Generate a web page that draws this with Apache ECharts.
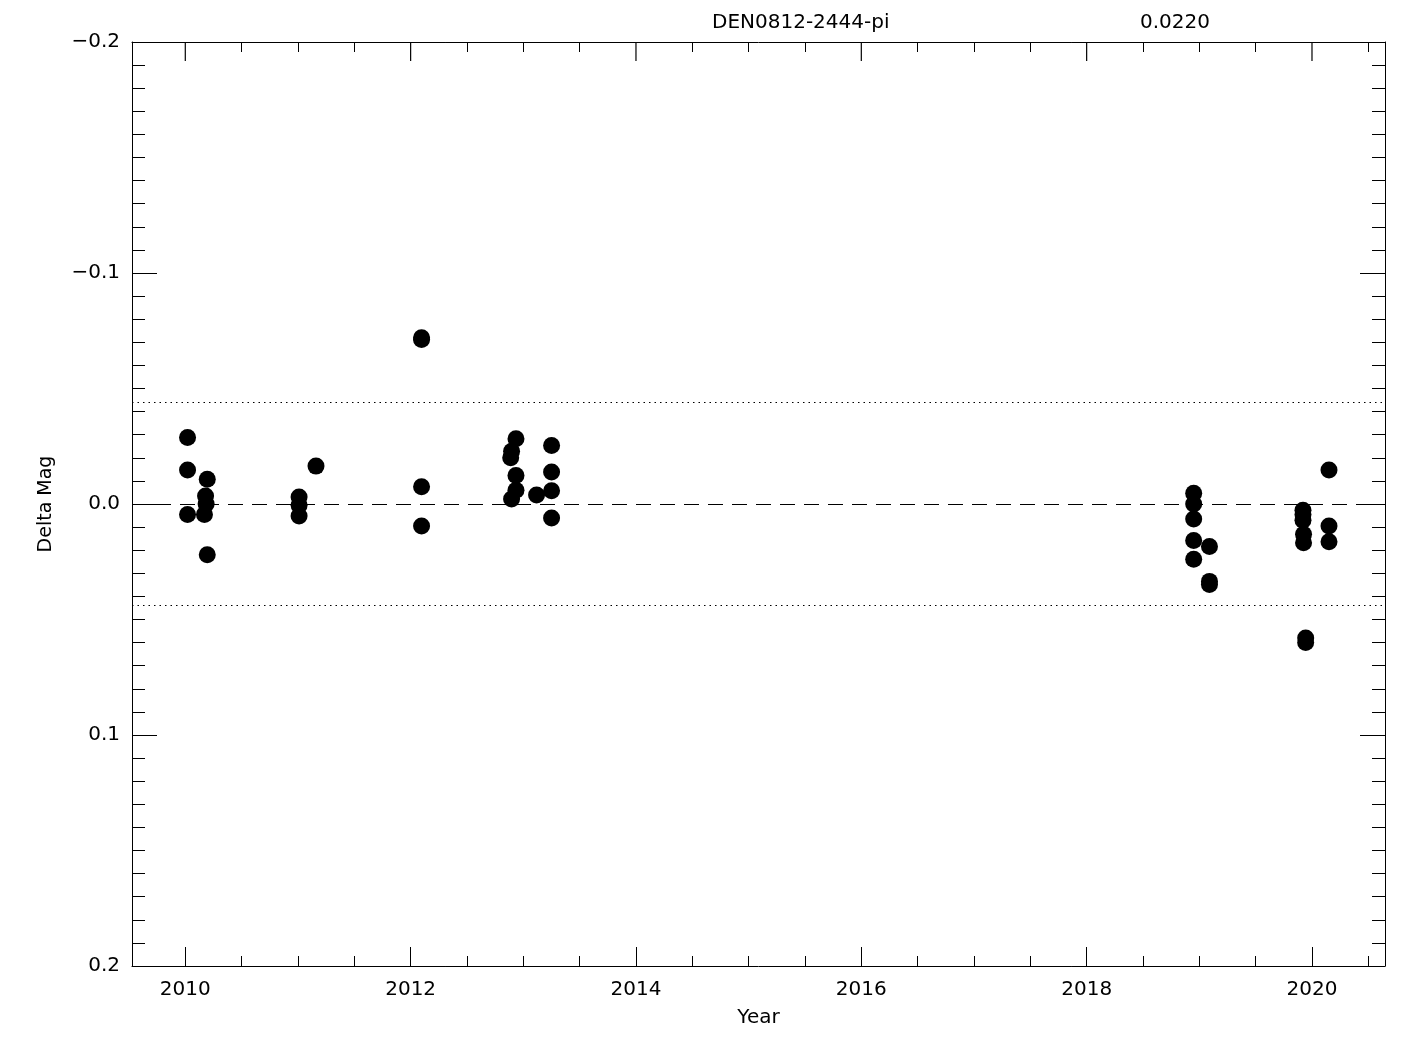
<!DOCTYPE html>
<html>
<head>
<meta charset="utf-8">
<script src="https://cdn.jsdelivr.net/npm/echarts@6/dist/echarts.min.js"></script>
<style>
html,body{margin:0;padding:0;background:#fff;}
#chart{width:1425px;height:1050px;}
</style>
</head>
<body>
<div id="chart"></div>
<script>
// ---- data ----
const years = [
  2010.02, 2010.02, 2010.02, 2010.195, 2010.18, 2010.185, 2010.17, 2010.195,
  2011.01, 2011.01, 2011.01, 2011.16,
  2012.097, 2012.097, 2012.097, 2012.097,
  2012.935, 2012.896, 2012.888, 2012.935, 2012.935, 2012.896, 2013.118,
  2013.251, 2013.251, 2013.251, 2013.251,
  2018.95, 2018.95, 2018.95, 2018.95, 2018.95, 2019.09, 2019.09, 2019.09,
  2020.151, 2020.151, 2020.151,
  2019.92, 2019.92, 2019.92, 2019.925, 2019.925, 2019.944, 2019.944
];
const mags = [
  -0.0288, -0.0147, 0.0045, -0.0107, -0.0035, 0.0000, 0.0045, 0.0220,
  -0.0030, 0.0005, 0.0052, -0.0164,
  -0.0720, -0.0712, -0.0075, 0.0095,
  -0.0282, -0.0228, -0.0200, -0.0123, -0.0060, -0.0022, -0.0039,
  -0.0253, -0.0139, -0.0057, 0.0061,
  -0.0047, 0.0000, 0.0065, 0.0158, 0.0239, 0.0184, 0.0335, 0.0348,
  -0.0147, 0.0095, 0.0163,
  0.0027, 0.0045, 0.0070, 0.0131, 0.0168, 0.0580, 0.0600
];
const refLines = [0.0, -0.044, 0.044];
const xMajorTicks = [2010, 2012, 2014, 2016, 2018, 2020];
const xMinorTicks = [2010.5, 2011, 2011.5, 2012.5, 2013, 2013.5, 2014.5, 2015, 2015.5,
  2016.5, 2017, 2017.5, 2018.5, 2019, 2019.5, 2020.5];
const yTickLabels = ['\u22120.2', '\u22120.1', '0.0', '0.1', '0.2'];
const titleText = 'DEN0812-2444-pi';
const valueText = '0.0220';
const X_MIN = 2009.527, X_MAX = 2020.648;
const Y_MIN = -0.2, Y_MAX = 0.2;

const FONT = 'DejaVu Sans';
const points = years.map((y, i) => [y, mags[i]]);

const black = '#000';
const lineStyle = { color: black, width: 1 };
function xAx(grid, pos, ticks, len, withLine, labels, showTicks) {
  return {
    type: 'value', gridIndex: grid, position: pos, min: X_MIN, max: X_MAX,
    splitLine: { show: false },
    axisLine: { show: withLine, onZero: false, lineStyle },
    axisTick: { show: showTicks !== false, inside: true, length: len, customValues: ticks, lineStyle },
    axisLabel: labels ? {
      show: true, customValues: ticks, margin: 14, color: black, fontSize: 20, fontFamily: FONT,
      formatter: v => String(Math.round(v))
    } : { show: false }
  };
}
function yAx(grid, pos, labels, visible) {
  return {
    type: 'value', gridIndex: grid, position: pos, inverse: true,
    min: Y_MIN, max: Y_MAX, interval: 0.1, show: visible,
    splitLine: { show: false },
    axisLine: { show: true, onZero: false, lineStyle },
    axisTick: { show: true, inside: true, length: 25, lineStyle },
    minorTick: { show: true, splitNumber: 10, length: 13, lineStyle },
    axisLabel: labels ? {
      show: true, margin: 12, color: black, fontSize: 20, fontFamily: FONT,
      formatter: v => yTickLabels[Math.round((v + 0.2) / 0.1)]
    } : { show: false }
  };
}

const xa0 = xAx(0, 'bottom', xMajorTicks, 19, true, true);
xa0.name = 'Year';
xa0.nameLocation = 'middle';
xa0.nameGap = 42;
xa0.nameTextStyle = { color: black, fontSize: 20, fontFamily: FONT };
const ya0 = yAx(0, 'left', true, true);
ya0.name = 'Delta Mag';
ya0.nameLocation = 'middle';
ya0.nameGap = 76;
ya0.nameTextStyle = { color: black, fontSize: 19, fontFamily: FONT };

const grid = { left: 132, right: 40, top: 42, bottom: 84 };
const option = {
  animation: false,
  backgroundColor: '#fff',
  grid: [Object.assign({}, grid), Object.assign({}, grid)],
  xAxis: [
    xa0,
    xAx(0, 'top', xMajorTicks, 19, true, false, false),
    xAx(1, 'bottom', xMinorTicks, 10, false, false),
    xAx(1, 'top', xMinorTicks, 10, false, false)
  ],
  yAxis: [ya0, yAx(0, 'right', false, true), yAx(1, 'left', false, false)],
  graphic: [
    { type: 'text', left: 712, top: 13, style: { text: titleText, fill: black, fontSize: 20, fontFamily: FONT } },
    { type: 'text', left: 1140, top: 13, style: { text: valueText, fill: black, fontSize: 20, fontFamily: FONT } }
  ],
  series: [
    {
      type: 'line', xAxisIndex: 0, yAxisIndex: 0, data: [], z: 1,
      markLine: {
        silent: true, symbol: ['none', 'none'], z: 1, animation: false, precision: 4,
        label: { show: false },
        data: refLines.map((v, i) => ({
          yAxis: v,
          lineStyle: { color: black, width: 1, type: i === 0 ? [15, 9] : [1.5, 4] }
        }))
      }
    },
    {
      // major ticks along the top edge, placed through the x axis scale
      type: 'custom', xAxisIndex: 0, yAxisIndex: 0, z: 4, silent: true, clip: false,
      data: xMajorTicks.map(v => [v]),
      encode: { x: 0 },
      renderItem: function (params, api) {
        const p = api.coord([api.value(0), Y_MIN]);
        return {
          type: 'line',
          shape: { x1: p[0], y1: p[1], x2: p[0], y2: p[1] + 19 },
          style: { stroke: black, lineWidth: 1.2 }
        };
      }
    },
    {
      type: 'scatter', xAxisIndex: 0, yAxisIndex: 0, z: 3,
      symbol: 'circle', symbolSize: 17,
      itemStyle: { color: black, opacity: 1 },
      emphasis: { disabled: true },
      data: points
    }
  ]
};
const chart = echarts.init(document.getElementById('chart'), null, { renderer: 'canvas' });
chart.setOption(option);
</script>
</body>
</html>
